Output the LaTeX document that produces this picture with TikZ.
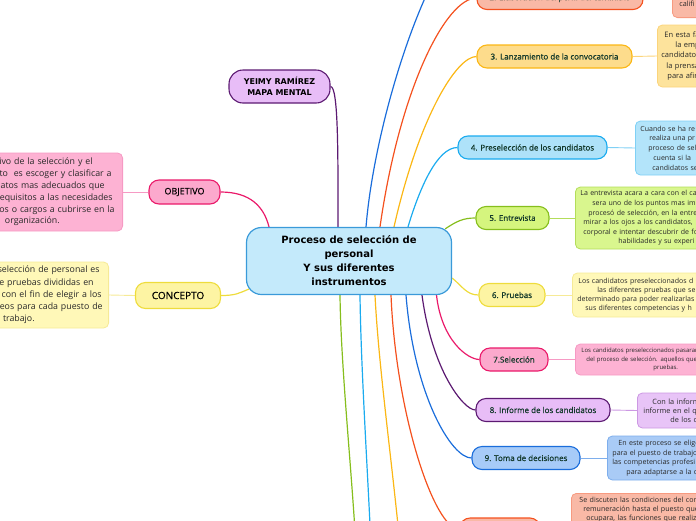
\documentclass[tikz,border=0pt]{standalone}
\usepackage{fontspec}
\setmainfont{Open Sans}
\newfontfamily\titlefont{DejaVu Sans}
\newfontfamily\topicfont{Open Sans}[FakeBold=0.6]
\usetikzlibrary{calc,backgrounds}
\newcommand{\fsz}[2]{\fontsize{#1}{#2}\selectfont}
\definecolor{hubfill}{RGB}{196,234,251}
\definecolor{hubline}{RGB}{58,154,217}
\definecolor{topictext}{RGB}{18,56,42}
\definecolor{notetext}{RGB}{40,40,40}
\definecolor{lilacfill}{RGB}{232,189,247}
\definecolor{plum}{RGB}{92,26,114}
\definecolor{pinkfill}{RGB}{252,169,205}
\definecolor{pinkline}{RGB}{234,26,106}
\definecolor{pinknote}{RGB}{253,178,211}
\definecolor{pinknoteline}{RGB}{246,154,196}
\definecolor{lemonfill}{RGB}{253,244,163}
\definecolor{lemonline}{RGB}{238,220,60}
\definecolor{lemonnote}{RGB}{255,248,184}
\definecolor{lemonnoteline}{RGB}{246,234,150}
\definecolor{salmonfill}{RGB}{249,185,166}
\definecolor{rustline}{RGB}{244,81,30}
\definecolor{salmonnoteline}{RGB}{247,154,128}
\definecolor{amberfill}{RGB}{253,220,140}
\definecolor{amberline}{RGB}{251,183,21}
\definecolor{ambernote}{RGB}{253,227,156}
\definecolor{ambernoteline}{RGB}{251,212,123}
\definecolor{skyfill}{RGB}{174,226,249}
\definecolor{skyline}{RGB}{26,171,239}
\definecolor{skynote}{RGB}{179,228,250}
\definecolor{skynoteline}{RGB}{127,208,245}
\definecolor{limefill}{RGB}{213,245,126}
\definecolor{limeline}{RGB}{134,190,29}
\definecolor{limenote}{RGB}{217,246,142}
\definecolor{limenoteline}{RGB}{179,221,90}
\definecolor{lilacnote}{RGB}{232,196,247}
\definecolor{lilacnoteline}{RGB}{204,152,227}
\definecolor{cornfill}{RGB}{167,203,248}
\definecolor{cornline}{RGB}{26,109,219}
\definecolor{cornnote}{RGB}{169,203,246}
\definecolor{cornnoteline}{RGB}{126,174,236}

\begin{document}
\begin{tikzpicture}[x=1pt, y=-1pt,
  hub/.style={draw=hubline, fill=hubfill, line width=1.2pt, rounded corners=15pt, minimum width=205pt, minimum height=67pt, align=center, font=\titlefont\bfseries\fsz{10}{14}},
  topic/.style={draw, line width=1.1pt, rounded corners=10pt, minimum height=23pt, inner xsep=0pt, text=topictext, font=\topicfont\fsz{8}{10}},
  note/.style={draw, line width=0.8pt, rounded corners=5pt, inner xsep=4pt, text=notetext, text width=150pt, align=left},
  branch/.style={line width=1.2pt},
  link/.style={line width=0.9pt}]
  \useasboundingbox (0,0) rectangle (696,520);
  \clip (0,0) rectangle (696,520);

  % centre and left side
  \node[hub] (c) at (349,261) {Proceso de selección de\\personal\\Y sus diferentes\\ instrumentos};
  \node[draw=plum, fill=lilacfill, line width=1.1pt, rounded corners=14pt, minimum width=101pt, minimum height=33pt, align=center, font=\titlefont\bfseries\fsz{8}{11.5}] (yr) at (279.5,86.5) {YEIMY RAMÍREZ\\MAPA MENTAL};
  \node[topic, draw=pinkline, fill=pinkfill, minimum width=71pt, minimum height=24pt, text=black, font=\topicfont\fsz{9}{10}] (o) at (184.5,192) {OBJETIVO};
  \node[topic, draw=lemonline, fill=lemonfill, minimum width=85pt, minimum height=26pt, text=black, font=\topicfont\fsz{10}{12}] (k) at (178,295.5) {CONCEPTO};
  \node[note, fill=pinknote, draw=pinknoteline, anchor=east, align=right, inner xsep=8pt, minimum height=78pt, font=\fsz{8.8}{11.8}] (no) at (123,192) {ivo de la selección y el\hspace*{22pt}\mbox{}\\to\ \ es escoger y clasificar a\hspace*{3pt}\mbox{}\\atos mas adecuados que\hspace*{10pt}\mbox{}\\equisitos a las necesidades\hspace*{2pt}\mbox{}\\os o cargos a cubrirse en la\\ organización.\hspace*{55pt}\mbox{}};
  \node[note, fill=lemonnote, draw=lemonnoteline, anchor=east, align=right, inner xsep=6pt, minimum height=66pt, font=\fsz{8.8}{12.2}] (nk) at (109,295) {selección de personal es\hspace*{3pt}\mbox{}\\e pruebas divididas en\hspace*{9pt}\mbox{}\\ con el fin de elegir a los\hspace*{1pt}\mbox{}\\eos para cada puesto de\\ trabajo.\hspace*{68pt}\mbox{}};

  % right side topics
  \node[topic, draw=rustline, fill=salmonfill, minimum width=166pt] (b2) at (560,-2) {2. Elaboración del perfil del candidato};
  \node[topic, draw=amberline, fill=amberfill, minimum width=155pt] (b3) at (554.5,56.5) {3. Lanzamiento de la convocatoria};
  \node[topic, draw=skyline, fill=skyfill, minimum width=149pt] (b4) at (532.5,147.5) {4. Preselección de los candidatos};
  \node[topic, draw=limeline, fill=limefill, minimum width=73pt] (b5) at (512.5,218) {5. Entrevista};
  \node[topic, draw=lemonline, fill=lemonfill, minimum width=66pt] (b6) at (512,295) {6. Pruebas};
  \node[topic, draw=pinkline, fill=pinkfill, minimum width=68pt] (b7) at (514,359.5) {7.Selección};
  \node[topic, draw=plum, fill=lilacfill, minimum width=134pt] (b8) at (543,410) {8. Informe de los candidatos};
  \node[topic, draw=cornline, fill=cornfill, minimum width=108pt] (b9) at (526,458) {9. Toma de decisiones};
  \node[topic, draw=rustline, fill=salmonfill, minimum width=80pt] (b10) at (500,529.5) {};
  \coordinate (b1) at (478,-70);
  \coordinate (b11) at (357,570);
  \coordinate (b12) at (372,570);
  \coordinate (b13) at (402,570);

  % right side notes
  \node[note, fill=salmonfill, draw=salmonnoteline, anchor=south west, inner ysep=11pt, font=\fsz{7.2}{10}] (n2) at (672,18) {\hspace*{3pt}califi};
  \node[note, fill=ambernote, draw=ambernoteline, anchor=west, minimum height=62pt, font=\fsz{7.5}{10.3}] (n3) at (657,56) {\hspace*{3pt}En esta fa\\\hspace*{14pt}la emp\\candidato\\\hspace*{5pt}la prensa\\\hspace*{6pt}para afir};
  \node[note, fill=skynote, draw=skynoteline, anchor=west, minimum height=54pt, font=\fsz{7}{9.8}] (n4) at (635,148) {\hspace*{1pt}Cuando se ha re\\\hspace*{10pt}realiza una pr\\\hspace*{9pt}proceso de sel\\\hspace*{14pt}cuenta si la\\\hspace*{13pt}candidatos se};
  \node[note, fill=limenote, draw=limenoteline, anchor=west, minimum height=62pt, font=\fsz{7}{9.6}] (n5) at (575,218) {\hspace*{1pt}La entrevista acara a cara con el ca\\\hspace*{13pt}sera uno de los puntos mas imp\\\hspace*{9pt}procesó de selección, en la entre\\\hspace*{4pt}mirar a los ojos a los candidatos,\\\hspace*{4pt}corporal e intentar descubrir de fo\\\hspace*{39pt}habilidades y su experi};
  \node[note, fill=lemonnote, draw=lemonnoteline, anchor=west, minimum height=44pt, font=\fsz{7}{9}] (n6) at (572,295) {\hspace*{2pt}Los candidatos preseleccionados d\\\hspace*{21pt}las diferentes pruebas que se\\\hspace*{1pt}determinado para poder realizarlas\\\hspace*{9pt}sus diferentes competencias y h};
  \node[note, fill=pinknote, draw=pinknoteline, anchor=west, minimum height=31pt, font=\fsz{6}{8.5}] (n7) at (575,359.5) {\hspace*{2pt}Los candidatos preseleccionados pasaran\\\hspace*{7pt}del proceso de selección. aquellos que s\\\hspace*{74pt}pruebas.};
  \node[note, fill=lilacnote, draw=lilacnoteline, anchor=west, minimum height=35pt, font=\fsz{7.3}{9}] (n8) at (637,410.5) {\hspace*{11pt}Con la inform\\\hspace*{2pt}informe en el q\\\hspace*{29pt}de los c};
  \node[note, fill=cornnote, draw=cornnoteline, anchor=west, minimum height=44pt, font=\fsz{7.1}{9.6}] (n9) at (607,458) {\hspace*{7pt}En este proceso se elige\\\hspace*{1pt}para el puesto de trabajo\\\hspace*{1pt}las competencias profesi\\\hspace*{15pt}para adaptarse a la c};
  \node[note, fill=salmonfill, draw=salmonnoteline, anchor=north west, font=\fsz{7.1}{9}] (n10) at (571,493) {\hspace*{4pt}Se discuten las condiciones del con\\\hspace*{8pt}remuneración hasta el puesto que\\\hspace*{11pt}ocupara, las funciones que realiz};

  \begin{scope}[on background layer]
    % branches out of the centre
    \draw[branch, plum] (yr.east) .. controls +(8,0) and +(0,-70) .. ($(c.north)+(-11,0)$);
    \draw[branch, pinkline] (o.east) .. controls +(30,0) and +(-5,-20) .. ($(c.north)+(-80,0)$);
    \draw[branch, lemonline] (k.east) .. controls +(15,0) and +(-10,4) .. ($(c.south west)+(3,-6)$);
    \draw[branch, cornline] ($(c.north)+(17,0)$) .. controls +(10,-120) and +(-40,0) .. (b1);
    \draw[branch, rustline] ($(c.north)+(31,0)$) .. controls +(20,-140) and +(-30,0) .. (b2.west);
    \draw[branch, amberline] ($(c.north)+(45,0)$) .. controls +(25,-110) and +(-20,0) .. (b3.west);
    \draw[branch, skyline] ($(c.north)+(59,0)$) .. controls +(12,-40) and +(-20,0) .. (b4.west);
    \draw[branch, limeline] ($(c.north east)+(-7,2)$) .. controls +(12,-8) and +(-12,0) .. (b5.west);
    \draw[branch, lemonline] ($(c.east)+(0,17)$) .. controls +(10,8) and +(-12,0) .. (b6.west);
    \draw[branch, pinkline] ($(c.south)+(87.5,0)$) .. controls +(5,45) and +(-12,0) .. (b7.west);
    \draw[branch, plum] ($(c.south)+(73,0)$) .. controls +(10,75) and +(-12,0) .. (b8.west);
    \draw[branch, cornline] ($(c.south)+(57,0)$) .. controls +(8,100) and +(-20,0) .. (b9.west);
    \draw[branch, rustline] ($(c.south)+(42,0)$) .. controls +(5,120) and +(-25,0) .. (b10.west);
    \draw[branch, amberline] ($(c.south)+(26,0)$) .. controls +(4,80) and +(-6,-80) .. (b13);
    \draw[branch, skyline] ($(c.south)+(11,0)$) .. controls +(1,80) and +(-3,-80) .. (b12);
    \draw[branch, limeline] ($(c.south)+(-9,0)$) .. controls +(1,80) and +(-3,-80) .. (b11);
    % topic to note
    \draw[link, pinknoteline] (o.west) -- (no.east);
    \draw[link, lemonnoteline] (k.west) -- (nk.east);
    \draw[link, salmonnoteline] (b2.east) -- (b2.east -| n2.west);
    \draw[link, ambernoteline] (b3.east) -- (n3.west);
    \draw[link, skynoteline] (b4.east) -- (n4.west);
    \draw[link, limenoteline] (b5.east) -- (n5.west);
    \draw[link, lemonnoteline] (b6.east) -- (n6.west);
    \draw[link, pinknoteline] (b7.east) -- (n7.west);
    \draw[link, lilacnoteline] (b8.east) -- (n8.west);
    \draw[link, cornnoteline] (b9.east) -- (n9.west);
    \draw[link, salmonnoteline] (b10.east) -- (b10.east -| n10.west);
  \end{scope}
\end{tikzpicture}
\end{document}
